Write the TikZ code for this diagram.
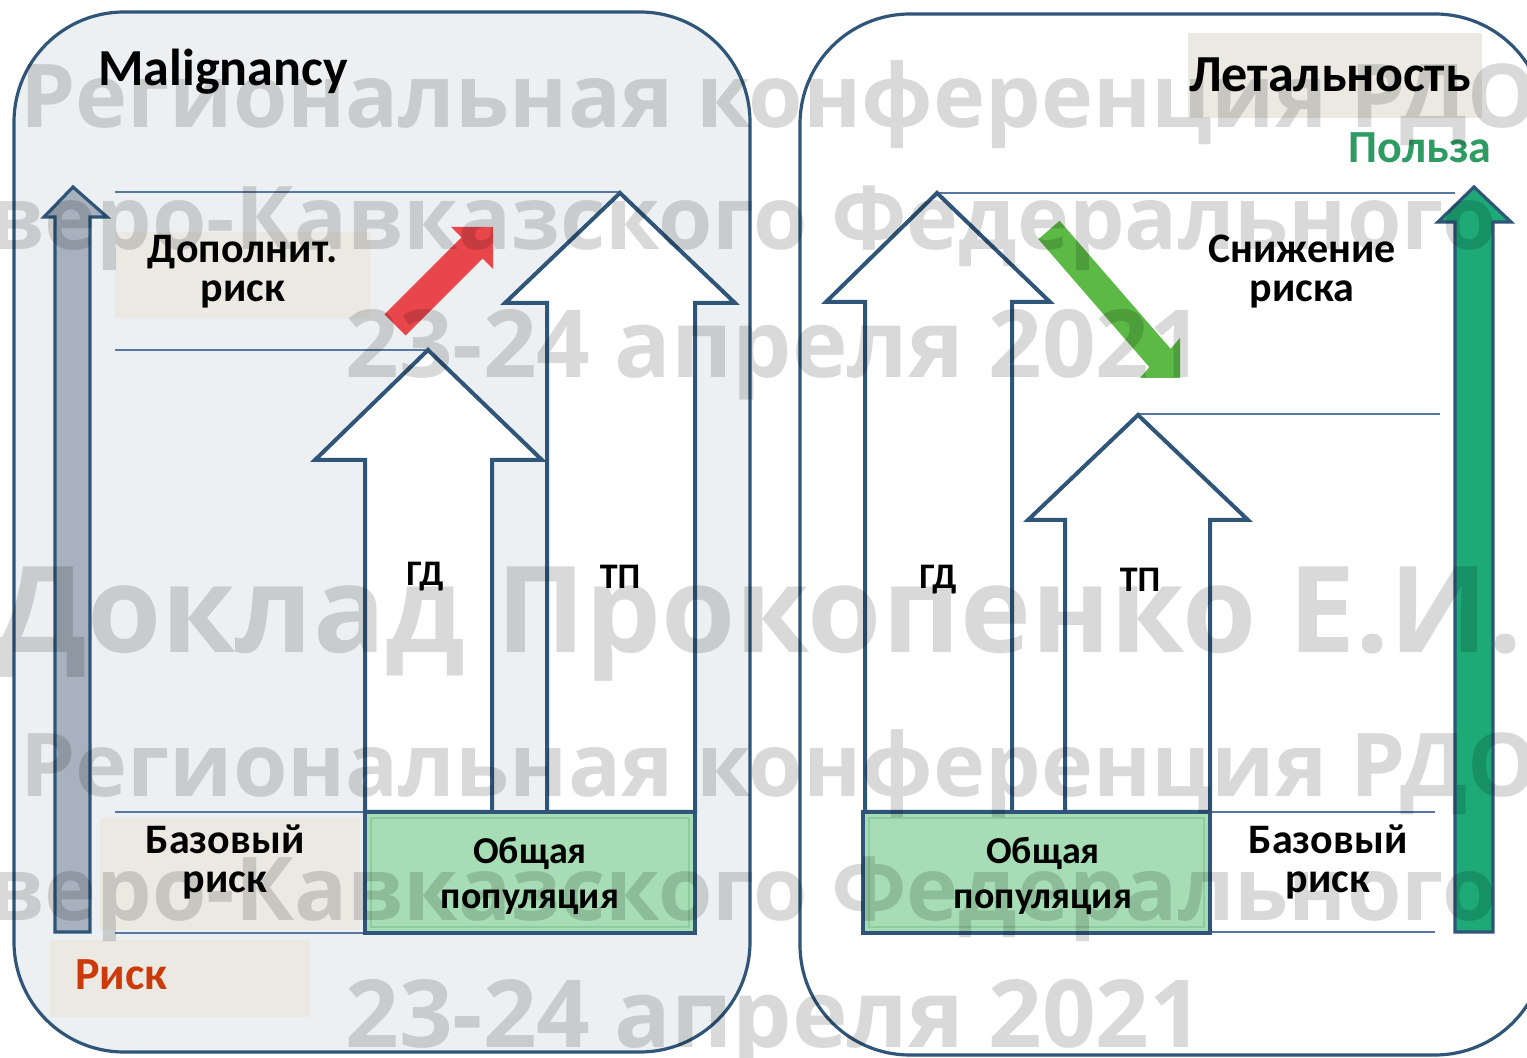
\documentclass[tikz,border=0pt]{standalone}
\usepackage{fontspec}
\setmainfont{Carlito}
\newfontfamily\wmfont{Open Sans}
\definecolor{bord}{HTML}{2F5578}
\definecolor{thinl}{HTML}{5577A0}
\definecolor{panelgray}{HTML}{EDF0F2}
\definecolor{beige}{HTML}{ECE9E2}
\definecolor{popgreen}{HTML}{A6DDB4}
\definecolor{popgreenin}{HTML}{8ECB9E}
\definecolor{redarrow}{HTML}{E8464B}
\definecolor{greenarrow}{HTML}{5CB946}
\definecolor{tealarrow}{HTML}{1DAA77}
\definecolor{grayarrow}{HTML}{A8B2BF}
\definecolor{riskred}{HTML}{CC3A0A}
\definecolor{benefit}{HTML}{2E9B63}
\tikzset{
  panel/.style={draw=bord, line width=1.6pt, rounded corners=55pt},
  blockarrow/.style={draw=bord, line width=2pt, fill=white, line join=miter},
  hline/.style={draw=thinl, line width=1pt},
  lbl/.style={font=\bfseries\fontsize{21}{19.5}\selectfont, align=center, inner sep=0pt},
  poplbl/.style={font=\bfseries\fontsize{19}{22.5}\selectfont, align=center, inner sep=0pt},
  small/.style={font=\bfseries\fontsize{18}{18}\selectfont, inner sep=0pt},
  title/.style={font=\bfseries\fontsize{26}{26}\selectfont, inner sep=0pt},
  wm/.style={font=\wmfont\bfseries\fontsize{44}{44}\selectfont, text=black, text opacity=0.15, inner sep=0pt, anchor=base west},
  popbox/.style={draw=bord, line width=2pt, fill=popgreen},
}
\begin{document}
\begin{tikzpicture}[x=0.5pt, y=-0.5pt]
\useasboundingbox (0,0) rectangle (1527,1058);
\clip (0,0) rectangle (1527,1058);
\fill[white] (0,0) rectangle (1527,1058);

% ---------- LEFT PANEL ----------
\fill[panelgray, rounded corners=55pt] (14,12) rectangle (750,1052);

% beige label backgrounds
\fill[beige] (115,232) rectangle (370,318);
\fill[beige] (100,818) rectangle (360,930);
\fill[beige] (50,940) rectangle (310,1017);

% thin level lines
\draw[hline] (115,192) -- (620,192);
\draw[hline] (115,350) -- (428,350);
\draw[hline] (115,812) -- (365,812);
\draw[hline] (115,933) -- (365,933);

% gray risk arrow
\draw[draw=bord, line width=1.6pt, fill=grayarrow, line join=miter]
  (55,932) -- (55,217) -- (44,217) -- (73,187) -- (107,217) -- (90,217) -- (90,932) -- cycle;

% TP arrow (left)
\draw[blockarrow] (547,812) -- (547,303) -- (505,303) -- (620,193) -- (735,303) -- (695,303) -- (695,812) -- cycle;
% GD arrow (left)
\draw[blockarrow] (365,812) -- (365,460) -- (315,460) -- (428,350) -- (542,460) -- (492,460) -- (492,812) -- cycle;

% red arrow
\fill[redarrow] (384.4,314.4) -- (461.4,237.4) -- (451,227) -- (493,227) -- (493,269) -- (482.6,258.6) -- (405.6,335.6) -- cycle;

% population box (left)
\draw[popbox] (365,812) rectangle (695,933);
\draw[popgreenin, line width=0.8pt] (371,818) rectangle (689,927);

% texts left
\node[title, anchor=west] (malig) at (98,72) {Malignancy};
\node[lbl] (dop) at (243,272) {Дополнит.\\ риск};
\node[small] (gd1) at (425,577) {ГД};
\node[small] (tp1) at (620,577) {ТП};
\node[lbl] (base1) at (225,862) {Базовый\\ риск};
\node[poplbl] (pop1) at (530,876) {Общая\\ популяция};
\node[font=\bfseries\fontsize{23}{23}\selectfont, text=riskred, inner sep=0pt, anchor=west] (risk) at (75,975) {Риск};

\draw[panel] (14,12) rectangle (750,1052);

% ---------- RIGHT PANEL ----------
\fill[white, rounded corners=55pt] (800,14) rectangle (1545,1055);
\fill[beige] (1188,33) rectangle (1482,118);

\draw[hline] (937,193) -- (1455,193);
\draw[hline] (1138,414) -- (1440,414);
\draw[hline] (1210,812) -- (1435,812);
\draw[hline] (1210,932) -- (1435,932);

% GD arrow (right)
\draw[blockarrow] (865,812) -- (865,302) -- (826,302) -- (937,193) -- (1050,302) -- (1012,302) -- (1012,812) -- cycle;
% TP arrow (right)
\draw[blockarrow] (1065,812) -- (1065,520) -- (1028,520) -- (1138,415) -- (1248,520) -- (1210,520) -- (1210,812) -- cycle;

% green arrow
\fill[greenarrow] (1059.6,220.8) -- (1170.6,348.8) -- (1180,338) -- (1180,378) -- (1140,378) -- (1149.4,367.2) -- (1038.4,239.2) -- cycle;

% teal benefit arrow
\draw[draw=bord, line width=1.6pt, fill=tealarrow, line join=miter]
  (1455,932) -- (1455,222) -- (1438,222) -- (1474,187) -- (1511,222) -- (1493,222) -- (1493,932) -- cycle;

% population box (right)
\draw[popbox] (863,812) rectangle (1210,933);
\draw[popgreenin, line width=0.8pt] (869,818) rectangle (1204,927);

% texts right
\node[title] (letal) at (1330,75) {Летальность};
\node[font=\bfseries\fontsize{23}{23}\selectfont, text=benefit, inner sep=0pt] (polza) at (1420,148) {Польза};
\node[lbl] (snizh) at (1302,272) {Снижение\\ риска};
\node[small] (gd2) at (938,580) {ГД};
\node[small] (tp2) at (1140,580) {ТП};
\node[poplbl] (pop2) at (1043,876) {Общая\\ популяция};
\node[lbl] (base2) at (1328,862) {Базовый\\ риск};

\draw[panel] (800,14) rectangle (1545,1055);

% ---------- WATERMARK ----------
\node[wm] (w1) at (20,128) {Региональная конференция РДО};
\node[wm] (w2) at (-120,250) {Северо-Кавказского Федерального};
\node[wm, font=\wmfont\bfseries\fontsize{47}{47}\selectfont] (w3) at (345,378) {23-24 апреля 2021};
\node[wm, font=\wmfont\bfseries\fontsize{60}{60}\selectfont] (w4) at (-5,653) {Доклад Прокопенко Е.И.};
\node[wm] (w5) at (20,797) {Региональная конференция РДО};
\node[wm] (w6) at (-120,920) {Северо-Кавказского Федерального};
\node[wm, font=\wmfont\bfseries\fontsize{47}{47}\selectfont] (w7) at (345,1047) {23-24 апреля 2021};
\end{tikzpicture}
\end{document}
